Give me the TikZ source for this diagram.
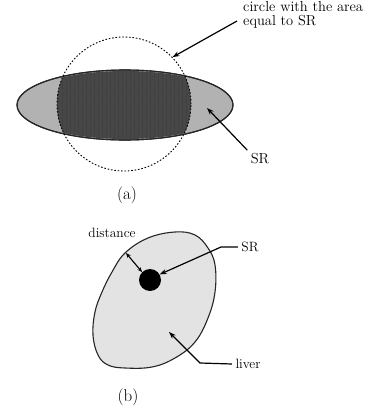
\documentclass[tikz,border=0pt]{standalone}
\usepackage{tikz}
\usetikzlibrary{arrows.meta,shapes.geometric}
\definecolor{lightshade}{gray}{0.70}
\definecolor{darkshade}{gray}{0.28}
\definecolor{livershade}{gray}{0.89}
\newcommand{\lblA}{\fontsize{14.5}{14.5}\selectfont}
\newcommand{\lblB}{\fontsize{13.5}{13}\selectfont}
\begin{document}
\begin{tikzpicture}[x=1pt, y=-1pt,
    pointer/.style={line width=1.2pt, -{Stealth[length=7pt,width=5pt]}},
    outline/.style={draw=black!85, line width=1.1pt}]

        \useasboundingbox (0,0) rectangle (376,407);

        % --- (a): region and circle of equal area ---
        \node[ellipse, outline, fill=lightshade, minimum width=216pt,
              minimum height=70pt, inner sep=0pt] (ell) at (125,105) {};
        \begin{scope}
            \clip (124,104) circle[radius=67pt];
            \clip (125,105) ellipse[x radius=107pt, y radius=34pt];
            \fill[darkshade] (40,60) rectangle (210,150);
            \foreach \x in {58,62,...,192}
                \draw[gray!50!black, line width=0.7pt] (\x,60) -- (\x,150);
            \foreach \y in {78,91,...,140}
                \draw[gray!55!black, line width=1pt] (40,\y) -- (210,\y);
        \end{scope}
        \node[ellipse, outline, minimum width=216pt,
              minimum height=70pt, inner sep=0pt] at (ell) {};
        \node[circle, draw, line width=0.9pt, dash pattern=on 1.6pt off 1.8pt,
              minimum size=134pt, inner sep=0pt] (circ) at (124,104) {};

        \node[font=\lblA, anchor=north west, align=left, inner sep=0pt] (circtxt)
            at (243,1) {circle with the area\\equal to SR};
        \coordinate (circtail) at (237,21);
        \draw[pointer] (circtail) -- (circ.44);

        \node[font=\lblA] (sra) at (260,159) {SR};
        \coordinate (srpt) at (207,108);
        \draw[pointer] (sra.north west) -- (srpt);

        \node[font=\fontsize{17}{17}\selectfont] (capa) at (127,195) {(a)};

        % --- (b): SR inside the liver ---
        \draw[outline, fill=livershade] plot[smooth cycle, tension=0.65] coordinates {
            (175,232) (195,235) (208,248) (215,265) (215,292) (208,318)
            (195,342) (175,358) (152,367) (125,368) (108,365) (98,355)
            (93,335) (95,312) (102,292) (112,272) (125,253) (148,238)};
        \node[circle, fill=black, minimum size=22pt, inner sep=0pt] (dot) at (150,280) {};

        \node[font=\lblB] (dist) at (112,233) {distance};
        \coordinate (edgept) at (126,253);
        \draw[line width=1.1pt, {Stealth[length=5pt,width=4pt]}-{Stealth[length=5pt,width=4pt]}]
            (edgept) -- (dot.135);

        \node[font=\lblB] (srb) at (250,247) {SR};
        \coordinate (bendsr) at (221,247);
        \draw[pointer] (srb.west) -- (bendsr) -- (dot.30);

        \node[font=\lblB] (lvr) at (248,364) {liver};
        \coordinate (bendlv) at (200,363);
        \coordinate (livpt) at (169,332);
        \draw[pointer] (lvr.west) -- (bendlv) -- (livpt);

        \node[font=\fontsize{17}{17}\selectfont] (capb) at (128,397) {(b)};

\end{tikzpicture}
\end{document}
